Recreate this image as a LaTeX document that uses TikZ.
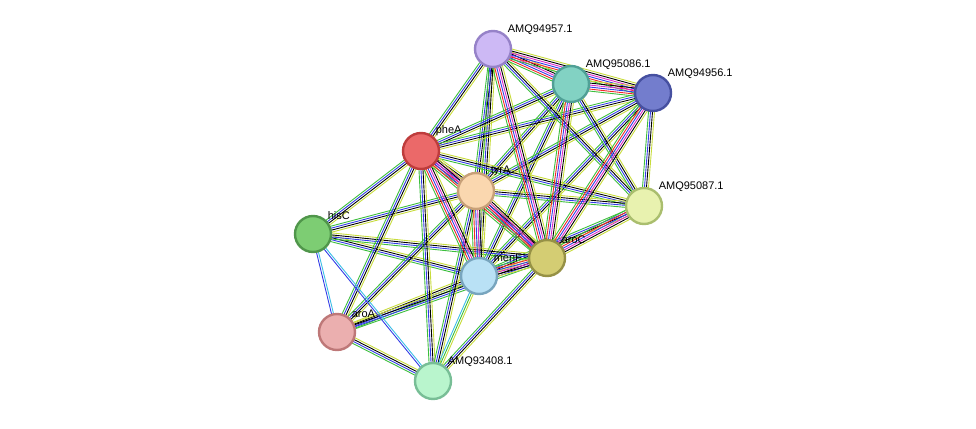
\documentclass[tikz,border=0pt]{standalone}
\usepackage{fontspec}
\setmainfont{Liberation Sans}
\usetikzlibrary{calc}
\definecolor{tgreen}{RGB}{60,190,60}
\definecolor{tblue}{RGB}{50,60,230}
\definecolor{tyell}{RGB}{200,220,60}
\definecolor{tmag}{RGB}{220,40,200}
\definecolor{tred}{RGB}{240,40,40}
\definecolor{tcyan}{RGB}{60,190,230}
\newcommand\linkab[4]{%
  \foreach \c [count=\i] in {#4}{
    \pgfmathsetmacro\off{(\i-(#3+1)/2)*2}
    \draw[\c, line width=0.9pt] ($(#1)!\off pt!90:(#2)$) -- ($(#2)!\off pt!-90:(#1)$);
  }}
\begin{document}
\begin{tikzpicture}[x=1pt,y=-1pt]
  \tikzstyle{prot}=[circle,draw,line width=2.4pt,minimum size=36pt,inner sep=0pt]
  \tikzstyle{lbl}=[font=\fontsize{11}{13}\selectfont,inner sep=1pt,anchor=south west]
  \useasboundingbox (0,0) rectangle (976,428);

  \coordinate (p94957) at (493,49);
  \coordinate (p95086) at (571,84);
  \coordinate (p94956) at (653,93);
  \coordinate (pheA) at (421,151);
  \coordinate (tyrA) at (476,191);
  \coordinate (p95087) at (644,206);
  \coordinate (hisC) at (313,234);
  \coordinate (aroC) at (547,258);
  \coordinate (menF) at (479,276);
  \coordinate (aroA) at (337,332);
  \coordinate (p93408) at (433,381);

  % links
  \foreach \a/\b in {p94957/pheA,p94957/tyrA,p94957/menF,p95086/pheA,p95086/tyrA,
      p95086/menF,p94956/pheA,p94956/tyrA,p94956/menF,pheA/p95087,tyrA/p95087,
      p95087/menF,pheA/hisC,tyrA/hisC,hisC/menF,hisC/aroC,pheA/aroA,tyrA/aroA,
      aroA/menF,aroA/aroC,pheA/p93408,tyrA/p93408,aroC/p93408,p94957/p95087,
      p95086/p95087,p94956/p95087}
    \linkab{\a}{\b}{4}{tgreen,tblue,black,tyell};
  \foreach \a/\b in {p94957/p95086,p94957/p94956,p95086/p94956,pheA/tyrA,
      pheA/menF,pheA/aroC,tyrA/menF,tyrA/aroC,aroC/menF,p94957/aroC,p95086/aroC,
      p94956/aroC,p95087/aroC}
    \linkab{\a}{\b}{6}{tgreen,tred,tblue,tmag,black,tyell};
  \linkab{hisC}{aroA}{2}{tblue,tcyan}
  \linkab{hisC}{p93408}{2}{tblue,tcyan}
  \linkab{aroA}{p93408}{4}{tgreen,tblue,black,tyell}
  \linkab{menF}{p93408}{3}{tcyan,tgreen,tyell}

  % proteins
  \node[prot,draw={rgb,255:red,150;green,130;blue,200},fill={rgb,255:red,205;green,185;blue,245},label={[lbl]45:AMQ94957.1}] (n94957) at (p94957) {};
  \node[prot,draw={rgb,255:red,80;green,160;blue,150},fill={rgb,255:red,130;green,210;blue,195},label={[lbl]45:AMQ95086.1}] (n95086) at (p95086) {};
  \node[prot,draw={rgb,255:red,70;green,80;blue,160},fill={rgb,255:red,115;green,125;blue,205},label={[lbl]45:AMQ94956.1}] (n94956) at (p94956) {};
  \node[prot,draw={rgb,255:red,190;green,60;blue,60},fill={rgb,255:red,235;green,105;blue,105},label={[lbl]45:pheA}] (npheA) at (pheA) {};
  \node[prot,draw={rgb,255:red,200;green,160;blue,120},fill={rgb,255:red,250;green,215;blue,175},label={[lbl]45:tyrA}] (ntyrA) at (tyrA) {};
  \node[prot,draw={rgb,255:red,170;green,190;blue,110},fill={rgb,255:red,232;green,242;blue,175},label={[lbl]45:AMQ95087.1}] (n95087) at (p95087) {};
  \node[prot,draw={rgb,255:red,80;green,150;blue,75},fill={rgb,255:red,125;green,205;blue,115},label={[lbl]45:hisC}] (nhisC) at (hisC) {};
  \node[prot,draw={rgb,255:red,150;green,145;blue,70},fill={rgb,255:red,212;green,205;blue,115},label={[lbl]45:aroC}] (naroC) at (aroC) {};
  \node[prot,draw={rgb,255:red,120;green,165;blue,190},fill={rgb,255:red,185;green,225;blue,245},label={[lbl]45:menF}] (nmenF) at (menF) {};
  \node[prot,draw={rgb,255:red,190;green,120;blue,120},fill={rgb,255:red,235;green,175;blue,175},label={[lbl]45:aroA}] (naroA) at (aroA) {};
  \node[prot,draw={rgb,255:red,120;green,190;blue,150},fill={rgb,255:red,185;green,245;blue,205},label={[lbl]45:AMQ93408.1}] (n93408) at (p93408) {};
\end{tikzpicture}
\end{document}
